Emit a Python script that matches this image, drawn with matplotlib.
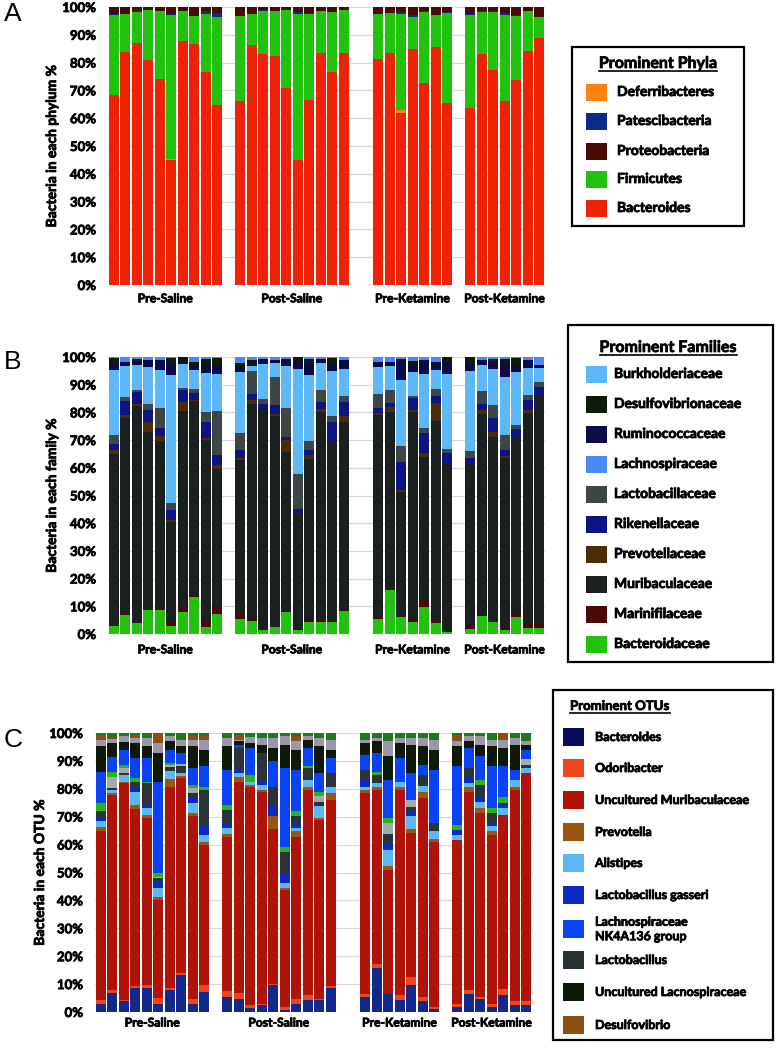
import numpy as np
import matplotlib.pyplot as plt
import matplotlib.patheffects as pe
from matplotlib.patches import Rectangle
from matplotlib.lines import Line2D

plt.rcParams['font.family'] = ['Lato', 'DejaVu Sans']

W, H = 777, 1049

groups = ['Pre-Saline', 'Post-Saline', 'Pre-Ketamine', 'Post-Ketamine']
group_sizes = [10, 10, 7, 7]
group_starts = [0, 11, 23, 31]

# ---------------- A: phyla (upper edge of each layer, % of bar) ----------------
phyla_names = ['Deferribacteres', 'Patescibacteria', 'Proteobacteria', 'Firmicutes', 'Bacteroides']
phyla_colors = ['#ff8210', '#0b2a8c', '#4a0a06', '#22c10c', '#ee2204']

a_bacteroides = [68.5, 83.8, 87.1, 80.8, 74.1, 44.9, 87.8, 86.8, 76.6, 64.7,
                 66.1, 86.3, 83.1, 82.4, 71.0, 45.1, 66.5, 83.5, 76.6, 83.5,
                 81.3, 83.4, 61.9, 85.0, 72.5, 85.5, 65.3,
                 63.6, 83.0, 77.4, 66.2, 73.9, 84.2, 89.0]
a_deferribacteres = [68.5, 83.8, 87.1, 80.8, 74.1, 45.3, 87.8, 86.8, 76.6, 64.7,
                     66.1, 86.3, 83.1, 82.4, 71.0, 45.1, 66.5, 83.5, 76.6, 83.5,
                     81.3, 83.4, 62.9, 85.0, 72.5, 85.5, 65.3,
                     63.6, 83.0, 77.4, 66.2, 73.9, 84.2, 89.0]
a_firmicutes = [97.2, 97.4, 98.1, 98.8, 98.6, 97.0, 98.6, 96.6, 97.4, 96.4,
                96.6, 97.4, 98.6, 98.4, 99.0, 97.6, 97.4, 98.6, 98.2, 98.8,
                97.4, 97.8, 97.6, 96.4, 98.2, 97.2, 97.8,
                97.0, 98.2, 98.2, 97.0, 96.8, 98.6, 96.4]
a_patescibacteria = [97.5, 97.4, 98.4, 98.8, 98.6, 97.5, 98.6, 96.6, 98.6, 97.7,
                     96.6, 97.4, 98.9, 98.6, 99.0, 98.1, 97.8, 98.6, 98.2, 98.8,
                     97.4, 97.8, 98.3, 97.2, 98.5, 97.2, 98.3,
                     97.5, 98.5, 98.7, 98.0, 97.1, 98.6, 96.4]

# ---------------- B: families ----------------
family_names = ['Burkholderiaceae', 'Desulfovibrionaceae', 'Ruminococcaceae', 'Lachnospiraceae',
                'Lactobacillaceae', 'Rikenellaceae', 'Prevotellaceae', 'Muribaculaceae',
                'Marinifilaceae', 'Bacteroidaceae']
family_colors = ['#5cb8f6', '#0e1a0a', '#0b0b48', '#4a8af8', '#3c4646',
                 '#0b1482', '#4a2c08', '#1a1f1f', '#4a0806', '#22c10c']

b_bacteroidaceae = [3.0, 6.9, 3.8, 8.7, 8.7, 3.0, 8.1, 13.5, 2.6, 7.2,
                    5.3, 4.7, 1.4, 2.4, 8.1, 1.4, 4.4, 4.4, 4.2, 8.4,
                    5.3, 15.9, 6.0, 4.4, 9.6, 3.8, 0.6,
                    1.7, 6.5, 4.4, 1.4, 6.0, 2.0, 2.3]
b_marinifilaceae = [3.4, 7.2, 3.8, 9.0, 9.3, 4.8, 9.3, 13.8, 4.2, 9.6,
                    7.2, 5.3, 1.4, 2.4, 8.3, 1.8, 5.3, 5.3, 4.2, 8.4,
                    5.9, 15.9, 6.3, 5.0, 12.3, 4.4, 1.1,
                    2.9, 6.9, 4.4, 2.0, 7.5, 3.5, 3.6]
b_muribaculaceae = [64.9, 78.1, 82.2, 73.0, 69.6, 40.5, 80.5, 84.0, 70.0, 59.7,
                    62.7, 83.2, 81.0, 78.6, 65.7, 43.5, 63.3, 80.2, 69.6, 76.6,
                    79.0, 80.2, 51.3, 80.2, 63.9, 76.9, 61.3,
                    61.9, 79.6, 71.2, 63.6, 70.9, 79.8, 85.8]
b_prevotellaceae = [66.6, 79.0, 82.9, 76.6, 71.4, 41.1, 83.8, 84.4, 70.9, 60.9,
                    63.6, 84.4, 81.0, 79.6, 70.1, 43.5, 64.5, 81.4, 69.6, 78.6,
                    79.8, 82.0, 51.9, 80.8, 65.4, 83.4, 61.3,
                    61.9, 81.0, 73.0, 64.3, 70.9, 80.8, 85.8]
b_rikenellaceae = [68.5, 84.0, 87.4, 80.8, 74.4, 44.7, 88.0, 87.1, 76.6, 64.8,
                   66.3, 86.5, 83.2, 82.6, 71.2, 45.3, 66.6, 83.8, 76.6, 83.8,
                   81.6, 83.4, 62.1, 85.3, 72.6, 85.8, 65.4,
                   63.6, 83.2, 77.8, 66.6, 73.9, 84.6, 89.2]
b_lactobacillaceae = [71.8, 85.6, 88.0, 83.2, 81.7, 47.4, 88.9, 88.6, 80.2, 80.4,
                      72.4, 95.0, 85.0, 92.8, 81.7, 57.6, 69.7, 88.0, 78.6, 85.8,
                      86.5, 88.2, 68.0, 85.9, 74.2, 88.6, 66.9,
                      66.1, 87.6, 82.6, 71.8, 75.4, 86.2, 91.0]
b_burkholderiaceae = [95.4, 96.6, 97.0, 96.4, 95.2, 93.6, 97.6, 95.4, 94.2, 94.0,
                      94.6, 96.6, 97.6, 98.0, 96.8, 95.8, 93.4, 98.0, 95.0, 95.8,
                      96.4, 96.6, 91.8, 94.6, 93.8, 95.4, 94.0,
                      95.0, 97.2, 95.8, 92.8, 94.6, 96.2, 96.2]
b_ruminococcaceae = [97.8, 98.2, 98.6, 99.0, 98.8, 97.6, 98.6, 97.0, 97.0, 97.0,
                     96.4, 97.6, 99.2, 98.8, 99.4, 98.2, 98.0, 99.2, 98.0, 99.0,
                     98.2, 98.2, 98.2, 96.6, 99.0, 98.2, 98.0,
                     97.6, 99.0, 98.2, 97.6, 97.2, 99.0, 97.0]
b_desulfovibrionaceae = [99.8, 98.2, 99.4, 99.0, 98.8, 99.8, 100.0, 98.2, 99.4, 99.6,
                         97.8, 99.0, 99.2, 98.8, 99.4, 100.0, 99.4, 99.2, 99.6, 99.0,
                         98.2, 98.2, 99.4, 98.6, 99.0, 98.2, 100.0,
                         100.0, 99.0, 99.4, 99.2, 99.6, 99.0, 97.0]

# ---------------- C: OTUs ----------------
otu_names = ['Bacteroides', 'Odoribacter', 'Uncultured Muribaculaceae', 'Prevotella', 'Alistipes',
             'Lactobacillus gasseri', 'Lachnospiraceae\nNK4A136 group', 'Lactobacillus',
             'Uncultured Lacnospiraceae', 'Desulfovibrio']
otu_colors = ['#0b0b5c', '#f0441c', '#b01408', '#9a5610', '#5cb8f2',
              '#0a2ac4', '#0a42f6', '#263234', '#0c1a08', '#8e5010']

c_bacteroides = [3.0, 6.8, 4.0, 8.6, 8.6, 3.0, 8.0, 13.4, 3.0, 7.2,
                 5.4, 4.8, 1.6, 2.4, 9.6, 0.8, 3.0, 4.2, 4.2, 8.7,
                 5.4, 15.9, 6.3, 4.2, 9.6, 4.0, 1.2,
                 1.8, 6.6, 4.8, 1.8, 6.0, 2.4, 2.4]
c_odoribacter = [4.2, 7.8, 4.4, 9.2, 9.6, 5.1, 8.6, 13.8, 4.8, 9.6,
                 7.4, 6.8, 2.4, 3.0, 10.2, 1.8, 4.8, 6.0, 4.8, 9.3,
                 6.6, 17.1, 6.6, 6.0, 12.6, 5.4, 1.8,
                 3.0, 7.8, 5.4, 3.0, 8.4, 4.0, 4.0]
c_muribaculaceae = [65.0, 77.8, 82.0, 72.8, 69.5, 40.1, 80.8, 83.8, 70.1, 59.9,
                    62.9, 82.6, 80.8, 79.0, 65.5, 43.7, 62.9, 79.6, 68.9, 76.0,
                    78.4, 79.6, 50.9, 79.6, 64.1, 76.6, 61.1,
                    61.7, 79.0, 71.3, 63.5, 70.7, 79.6, 85.6]
c_prevotella = [66.2, 78.4, 82.6, 74.3, 70.7, 41.1, 83.5, 84.7, 71.3, 61.1,
                63.8, 84.2, 81.4, 79.6, 70.3, 44.3, 64.7, 80.6, 69.5, 78.4,
                79.6, 80.8, 52.3, 80.6, 65.5, 79.0, 61.9,
                61.7, 80.8, 73.1, 64.7, 70.7, 80.8, 85.6]
c_alistipes = [68.3, 79.6, 85.0, 79.0, 73.1, 44.3, 86.5, 85.6, 74.9, 63.5,
               65.9, 85.6, 82.6, 81.4, 70.3, 46.1, 65.9, 83.2, 73.7, 80.8,
               80.8, 82.0, 58.1, 82.6, 70.1, 81.0, 64.7,
               63.5, 82.0, 75.4, 66.5, 73.1, 83.2, 87.4]
c_gasseri = [69.5, 79.6, 85.0, 80.2, 74.3, 46.7, 86.5, 85.6, 76.6, 67.1,
             67.7, 87.0, 82.6, 82.6, 74.3, 49.7, 67.7, 83.2, 73.7, 80.8,
             83.2, 82.0, 60.3, 82.6, 71.9, 81.0, 64.7,
             65.3, 83.8, 77.2, 67.7, 74.9, 83.2, 87.4]
c_lactobacillus = [71.9, 80.2, 85.6, 82.6, 82.0, 47.9, 87.7, 88.0, 78.4, 79.6,
                   72.5, 94.6, 82.6, 92.8, 80.8, 57.5, 70.1, 87.4, 75.2, 85.6,
                   86.8, 85.0, 63.9, 82.6, 73.6, 85.0, 67.7,
                   65.3, 87.4, 81.4, 71.3, 74.9, 83.2, 88.7]
c_other_gray = [72.2, 84.2, 87.4, 82.6, 82.0, 48.5, 88.6, 89.0, 80.2, 79.6,
                72.5, 94.6, 82.6, 92.8, 80.8, 57.5, 70.1, 87.4, 77.4, 85.6,
                86.8, 85.0, 67.7, 82.6, 76.0, 85.0, 67.7,
                65.3, 87.4, 81.4, 71.3, 74.9, 83.2, 90.7]
c_other_green = [74.9, 86.2, 88.6, 83.8, 82.6, 49.7, 89.2, 89.0, 81.4, 80.8,
                 74.3, 94.6, 85.0, 92.8, 80.8, 59.3, 71.9, 88.0, 79.0, 85.6,
                 86.8, 86.2, 69.5, 82.6, 76.0, 85.0, 67.7,
                 67.1, 87.4, 83.2, 73.1, 77.2, 83.2, 90.7]
c_nk4a136 = [85.9, 91.3, 94.0, 91.0, 91.0, 82.6, 94.0, 92.8, 87.4, 88.0,
             86.8, 95.8, 94.6, 92.8, 89.8, 87.4, 86.8, 94.6, 85.6, 91.0,
             92.2, 92.8, 83.0, 91.0, 85.6, 88.6, 86.8,
             88.0, 94.6, 91.6, 88.0, 88.0, 86.8, 94.0]
c_unc_lachno = [95.2, 96.4, 96.6, 96.4, 95.2, 92.8, 97.0, 95.2, 95.2, 94.0,
                95.2, 97.0, 96.4, 95.8, 94.6, 95.8, 94.0, 97.6, 95.2, 94.0,
                96.4, 97.0, 91.6, 96.4, 95.8, 95.2, 94.0,
                95.2, 97.0, 95.8, 95.2, 94.6, 95.8, 95.8]
c_other_mix = [97.6, 97.8, 98.8, 98.2, 98.2, 96.4, 98.8, 97.6, 97.6, 97.4,
               98.2, 97.6, 98.6, 98.2, 98.2, 98.8, 97.0, 99.0, 98.2, 97.6,
               97.6, 98.2, 97.0, 98.2, 98.2, 98.2, 97.6,
               97.0, 98.8, 98.8, 97.6, 97.6, 98.2, 97.0]
c_desulfovibrio = [99.4, 98.2, 98.8, 99.4, 98.2, 99.6, 98.8, 97.8, 98.8, 98.8,
                   98.2, 99.4, 98.6, 98.2, 98.2, 98.8, 98.8, 99.0, 98.2, 97.6,
                   97.6, 98.2, 97.0, 98.2, 98.2, 98.2, 97.6,
                   99.4, 98.8, 98.8, 97.6, 100.0, 98.2, 97.0]

x = np.concatenate([np.arange(s, s + n) for s, n in zip(group_starts, group_sizes)])
centers = [s + (n - 1) / 2 for s, n in zip(group_starts, group_sizes)]
full = [100.0] * len(x)

# thin stroke to get the heavy look of the original bold labels
heavy = [pe.withStroke(linewidth=0.55, foreground='black')]


def stack(ax, tops, colors):
    prev = np.zeros(len(x))
    for top, col in zip(tops, colors):
        top = np.asarray(top, float)
        ax.bar(x, np.clip(top - prev, 0, None), bottom=prev, width=0.86,
               color=col, linewidth=0, zorder=2)
        prev = np.maximum(prev, top)


def px_axes(left, top, width, height):
    return fig.add_axes([left / W, 1 - (top + height) / H, width / W, height / H])


def style(ax, ylabel, left_px, label_px, xpad):
    ax.set_xlim(-0.5, 37.5)
    ax.set_ylim(0, 100)
    ax.set_yticks(range(0, 101, 10))
    ax.set_yticklabels([f'{v}%' for v in range(0, 101, 10)], fontweight='bold', fontsize=9.5)
    ax.set_xticks(centers)
    ax.set_xticklabels(groups, fontweight='bold', fontsize=8.7)
    ax.tick_params(axis='y', length=0, pad=8.5)
    ax.tick_params(axis='x', length=0, pad=xpad)
    ax.yaxis.grid(True, color='#d9d9d9', lw=0.9, zorder=0)
    ax.set_axisbelow(True)
    for sp in ax.spines.values():
        sp.set_visible(False)
    lab = ax.set_ylabel(ylabel, fontsize=10, fontweight='bold', va='center')
    ax.yaxis.set_label_coords((label_px - left_px) / 437, 0.5)
    for t in ax.get_xticklabels() + ax.get_yticklabels() + [lab]:
        t.set_path_effects(heavy)


fig = plt.figure(figsize=(W / 100, H / 100), dpi=100)

axA = px_axes(108, 7, 437, 278)
stack(axA, [a_bacteroides, a_deferribacteres, a_firmicutes, a_patescibacteria, full],
      ['#ee2204', '#ff8210', '#22c10c', '#0b2a8c', '#4a0a06'])
style(axA, 'Bacteria in each phylum %', 108, 52, 6)

axB = px_axes(108, 357, 437, 277)
stack(axB, [b_bacteroidaceae, b_marinifilaceae, b_muribaculaceae, b_prevotellaceae,
            b_rikenellaceae, b_lactobacillaceae, b_burkholderiaceae, b_ruminococcaceae,
            b_desulfovibrionaceae, full],
      ['#22c10c', '#4a0806', '#1a1f1f', '#4a2c08', '#0b1482', '#3c4646',
       '#5cb8f6', '#0b0b48', '#0e1a0a', '#4a8af8'])
style(axB, 'Bacteria in each family %', 108, 52, 7.5)

axC = px_axes(95, 733, 437, 279)
stack(axC, [c_bacteroides, c_odoribacter, c_muribaculaceae, c_prevotella, c_alistipes,
            c_gasseri, c_lactobacillus, c_other_gray, c_other_green, c_nk4a136,
            c_unc_lachno, c_other_mix, c_desulfovibrio, full],
      ['#13288a', '#f0441c', '#b01408', '#9a5610', '#5cb8f2', '#0a2ac4', '#2a3436',
       '#a3abab', '#25b516', '#0a42f6', '#0e1a08', '#9c96aa', '#8e5010', '#1b7a1b'])
style(axC, 'Bacteria in each OTU %', 95, 40, 4)

# panel letters
for letter, ly in [('A', 14), ('B', 362), ('C', 740)]:
    fig.text(4 / W, 1 - ly / H, letter, fontsize=19, family='Liberation Sans', va='center')

# legends drawn in figure pixel coordinates
lax = fig.add_axes([0, 0, 1, 1])
lax.set_xlim(0, W)
lax.set_ylim(H, 0)
lax.axis('off')


def legend_box(box, title, title_xy, title_ha, title_size, names, colors,
               patch_x, patch_h, text_x, ys, size):
    x0, y0, x1, y1 = box
    lax.add_patch(Rectangle((x0, y0), x1 - x0, y1 - y0, fill=False, lw=1.6, ec='black'))
    t = lax.text(title_xy[0], title_xy[1], title, ha=title_ha, va='baseline',
                 fontsize=title_size, fontweight='bold', path_effects=heavy)
    for name, col, y in zip(names, colors, ys):
        lax.add_patch(Rectangle((patch_x, y - patch_h / 2), 21, patch_h, color=col, lw=0))
        lax.text(text_x, y, name, va='center', ha='left', fontsize=size, fontweight='bold',
                 linespacing=1.25, path_effects=heavy)
    return t


tA = legend_box((572, 47, 744, 226), 'Prominent Phyla', (658, 68), 'center', 11.5,
                phyla_names, phyla_colors, 586, 17, 617, [92, 121, 151, 179, 208], 10)
tB = legend_box((568, 325, 773, 662), 'Prominent Families', (668, 352), 'center', 11.5,
                family_names, family_colors, 586, 17, 614,
                [374 + 30 * i for i in range(10)], 10)
tC = legend_box((553, 690, 773, 1040), 'Prominent OTUs', (570, 710), 'left', 9.5,
                otu_names, otu_colors, 563, 18, 595,
                [737, 768, 800, 832, 863, 895, 929, 960, 992, 1025], 9)

# underline the legend titles
fig.canvas.draw()
r = fig.canvas.get_renderer()
for t, yb in [(tA, 68), (tB, 352), (tC, 710)]:
    bb = t.get_window_extent(r)
    lax.add_line(Line2D([bb.x0, bb.x1], [yb + 2.5, yb + 2.5], color='black', lw=1.2))

fig.savefig('out.png', dpi=100)
